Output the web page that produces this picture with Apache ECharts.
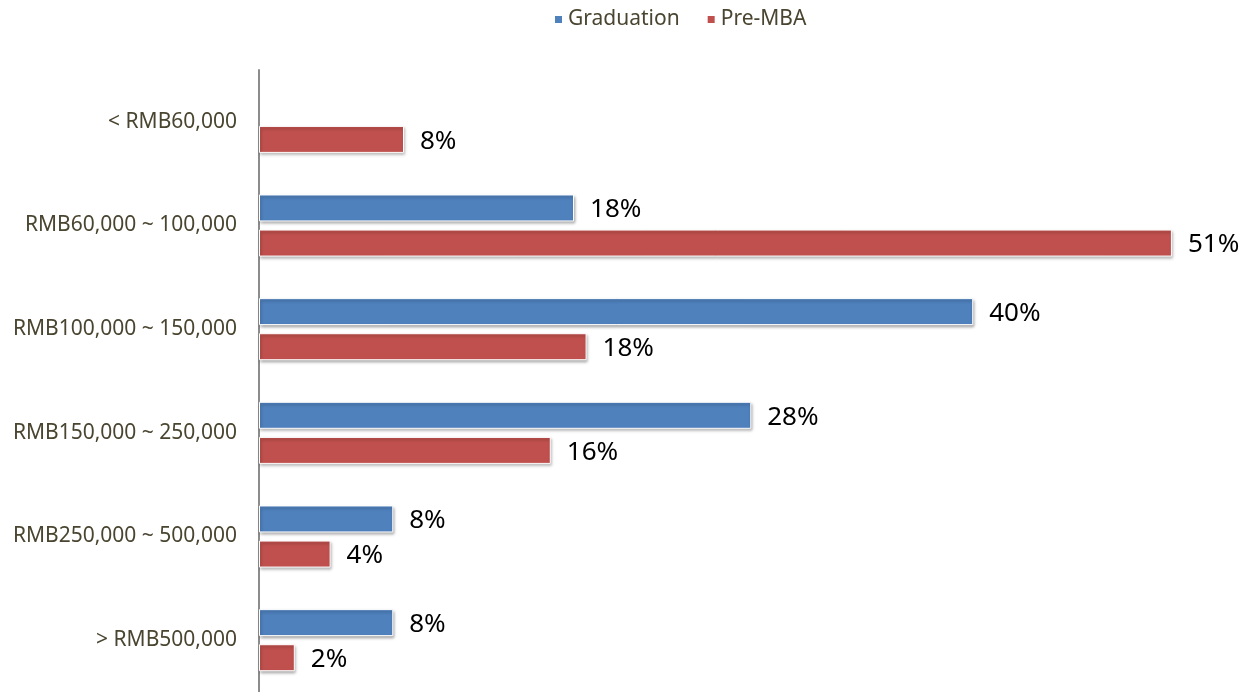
<!DOCTYPE html>
<html>
<head>
<meta charset="utf-8">
<script src="https://cdn.jsdelivr.net/npm/echarts@6/dist/echarts.min.js"></script>
<style>
  html, body { margin: 0; padding: 0; background: #fff; }
  #chart { width: 1253px; height: 692px; }
</style>
</head>
<body>
<div id="chart"></div>
<script>
var categories = ["< RMB60,000", "RMB60,000 ~ 100,000", "RMB100,000 ~ 150,000", "RMB150,000 ~ 250,000", "RMB250,000 ~ 500,000", "> RMB500,000"];
// bar lengths; labels show rounded percent
var graduation = [null, 17.6, 39.9, 27.5, 7.5, 7.5];
var preMBA = [8.1, 51, 18.3, 16.3, 4, 2];

var fontName = "'Noto Sans', 'Open Sans', sans-serif";

function barStyle(color) {
  return {
    color: color,
    borderColor: "#fff",
    borderWidth: 1,
    shadowColor: "rgba(0,0,0,0.35)",
    shadowBlur: 3,
    shadowOffsetX: 1,
    shadowOffsetY: 2
  };
}

var label = {
  show: true,
  position: "right",
  distance: 16,
  offset: [0, 2],
  color: "#000",
  fontSize: 26,
  fontFamily: fontName,
  formatter: function (p) {
    return Math.round(p.value) + "%";
  }
};

var option = {
  animation: false,
  legend: {
    top: 4,
    left: 548,
    itemWidth: 9,
    itemHeight: 9,
    itemGap: 26,
    icon: "rect",
    textStyle: { color: "#4a4530", fontSize: 21, fontFamily: fontName },
    data: ["Graduation", "Pre-MBA"]
  },
  grid: { left: 259, right: 9.5, top: 70, height: 624, containLabel: false },
  xAxis: {
    type: "value",
    min: 0,
    max: 55,
    show: false
  },
  yAxis: {
    type: "category",
    inverse: true,
    data: categories,
    axisLine: { show: true, lineStyle: { color: "#8c8c8c", width: 2 } },
    axisTick: { show: false },
    axisLabel: { color: "#4a4530", fontSize: 21, fontFamily: fontName, margin: 22 }
  },
  series: [
    {
      name: "Graduation",
      type: "bar",
      data: graduation,
      barWidth: 27,
      barGap: "30%",
      itemStyle: barStyle("#4f81bd"),
      label: label
    },
    {
      name: "Pre-MBA",
      type: "bar",
      data: preMBA,
      barWidth: 27,
      barGap: "30%",
      itemStyle: barStyle("#c0504d"),
      label: label
    }
  ]
};

var myChart = echarts.init(document.getElementById("chart"));
myChart.setOption(option);
</script>
</body>
</html>
